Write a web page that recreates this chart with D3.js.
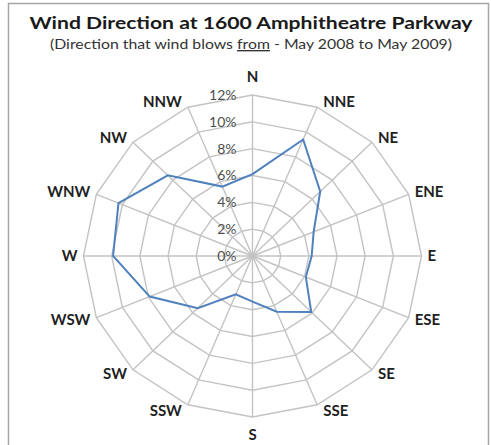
<!DOCTYPE html>
<html>
<head>
<meta charset="utf-8">
<script src="https://cdn.jsdelivr.net/npm/d3@7"></script>
<style>
  body { margin: 0; background: #fff; }
  text { font-family: Lato, "Open Sans", sans-serif; }
</style>
</head>
<body>
<div id="chart"></div>
<script>
'use strict';

// compass points, clockwise from north
const directions = ['N', 'NNE', 'NE', 'ENE', 'E', 'ESE', 'SE', 'SSE',
                    'S', 'SSW', 'SW', 'WSW', 'W', 'WNW', 'NW', 'NNW'];
// percentage of time the wind blows from each direction
const windPct = [6.1, 9.4, 6.8, 4.7, 4.2, 4.1, 5.9, 4.5,
                 3.4, 3.1, 5.5, 7.9, 9.9, 10.3, 8.5, 5.6];
const tickValues = [0, 2, 4, 6, 8, 10, 12];
const tickLabels = ['0%', '2%', '4%', '6%', '8%', '10%', '12%'];

const width = 491;
const height = 445;
const cx = 252.5;
const cy = 256;

const svg = d3.select('#chart')
    .append('svg')
    .attr('width', width)
    .attr('height', height);

// outer frame (bottom runs off the picture)
svg.append('rect')
    .attr('x', 8.5)
    .attr('y', 3.5)
    .attr('width', 480)
    .attr('height', 460)
    .attr('fill', 'none')
    .attr('stroke', '#a6a6a6')
    .attr('stroke-width', 1.5);

// the picture is a bit wider than it is tall
const rx = d3.scaleLinear().domain([0, 12]).range([0, 169]);
const ry = d3.scaleLinear().domain([0, 12]).range([0, 161]);

const angle = d3.scalePoint()
    .domain(directions)
    .range([0, 2 * Math.PI * 15 / 16]);

function pt(dir, v) {
    const a = angle(dir);
    return [cx + rx(v) * Math.sin(a), cy - ry(v) * Math.cos(a)];
}

const line = d3.line().curve(d3.curveLinearClosed);

// grid rings
svg.append('g')
    .selectAll('path')
    .data(tickValues.filter(v => v > 0))
    .enter()
    .append('path')
    .attr('d', v => line(directions.map(d => pt(d, v))))
    .attr('fill', 'none')
    .attr('stroke', '#c3c3c3')
    .attr('stroke-width', 1.4);

// spokes
svg.append('g')
    .selectAll('line')
    .data(directions)
    .enter()
    .append('line')
    .attr('x1', cx)
    .attr('y1', cy)
    .attr('x2', d => pt(d, 12)[0])
    .attr('y2', d => pt(d, 12)[1])
    .attr('stroke', '#c3c3c3')
    .attr('stroke-width', 1.4);

// tick labels along the north spoke
svg.append('g')
    .selectAll('text')
    .data(tickValues)
    .enter()
    .append('text')
    .attr('x', cx - 16)
    .attr('y', v => cy - ry(v))
    .attr('dy', '0.35em')
    .attr('text-anchor', 'end')
    .attr('font-size', 14)
    .attr('fill', '#4d4d4d')
    .text((v, i) => tickLabels[i]);

// the series
svg.append('path')
    .datum(directions)
    .attr('d', line(directions.map((d, i) => pt(d, windPct[i]))))
    .attr('fill', 'none')
    .attr('stroke', '#4f81bd')
    .attr('stroke-width', 2)
    .attr('stroke-linejoin', 'miter');

// compass labels
svg.append('g')
    .selectAll('text')
    .data(directions)
    .enter()
    .append('text')
    .each(function(d) {
        const a = angle(d);
        const ux = Math.sin(a);
        const uy = -Math.cos(a);
        const [vx, vy] = pt(d, 12);
        const t = d3.select(this);
        if (Math.abs(ux) < 0.01) {
            t.attr('x', vx).attr('y', vy + uy * 18).attr('text-anchor', 'middle');
        } else {
            t.attr('x', vx + Math.sign(ux) * 6)
             .attr('y', vy + uy * 6)
             .attr('text-anchor', ux > 0 ? 'start' : 'end');
        }
    })
    .attr('dy', '0.36em')
    .attr('font-size', 15)
    .attr('font-weight', 'bold')
    .attr('fill', '#1f1f1f')
    .text(d => d);

// titles
svg.append('text')
    .attr('x', 251)
    .attr('y', 28.5)
    .attr('text-anchor', 'middle')
    .attr('font-size', 17.5)
    .attr('font-weight', 'bold')
    .attr('fill', '#1a1a1a')
    .attr('textLength', 443)
    .attr('lengthAdjust', 'spacingAndGlyphs')
    .text('Wind Direction at 1600 Amphitheatre Parkway');

const sub = svg.append('text')
    .attr('x', 251)
    .attr('y', 49)
    .attr('text-anchor', 'middle')
    .attr('font-size', 13.5)
    .attr('fill', '#333')
    .attr('textLength', 402)
    .attr('lengthAdjust', 'spacingAndGlyphs');
sub.append('tspan').text('(Direction that wind blows ');
sub.append('tspan').attr('text-decoration', 'underline').text('from');
sub.append('tspan').text(' - May 2008 to May 2009)');
</script>
</body>
</html>
